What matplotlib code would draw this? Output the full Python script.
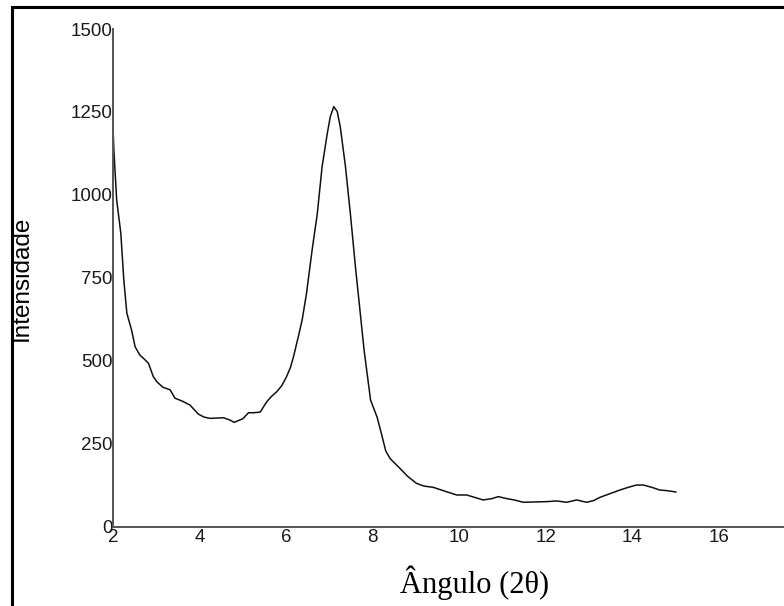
import matplotlib
matplotlib.use("Agg")
import matplotlib.pyplot as plt
from matplotlib.patches import Rectangle

angle = [2.00, 2.02, 2.085, 2.18, 2.25, 2.32, 2.43, 2.51, 2.62, 2.72,
         2.82, 2.93, 3.01, 3.15, 3.32, 3.43, 3.60, 3.78, 3.97, 4.10, 4.24,
         4.40, 4.55, 4.70, 4.80, 4.89, 5.00, 5.13, 5.25, 5.40, 5.55, 5.66,
         5.78, 5.90, 6.01, 6.10, 6.17, 6.28, 6.37, 6.47, 6.60, 6.72, 6.83,
         6.95, 7.02, 7.10, 7.18, 7.25, 7.37, 7.49, 7.60, 7.68, 7.80, 7.95,
         8.10, 8.20, 8.30, 8.40, 8.50, 8.63, 8.80, 9.01, 9.18, 9.40, 9.70, 9.94,
         10.17, 10.35, 10.55, 10.75, 10.90, 11.10, 11.27, 11.48, 11.75,
         12.02, 12.25, 12.48, 12.71, 12.94, 13.10, 13.25, 13.50, 13.71,
         13.90, 14.09, 14.25, 14.45, 14.63, 14.80, 15.00]
intensity = [1205, 1135, 984, 885, 743, 643, 592, 542, 517, 505,
             492, 452, 437, 420, 412, 387, 378, 366, 339, 330, 326,
             327, 328, 321, 314, 319, 325, 343, 343, 345, 376, 392,
             406, 425, 452, 480, 512, 572, 623, 703, 834, 944, 1085,
             1185, 1236, 1266, 1251, 1205, 1085, 934, 783, 683, 532, 381,
             330, 280, 228, 205, 192, 175, 152, 130, 122, 118, 105, 95,
             95, 88, 80, 84, 90, 84, 80, 73, 74,
             75, 77, 73, 80, 73, 78, 88, 100, 110,
             118, 125, 125, 118, 110, 108, 104]

W, H = 784, 606
fig = plt.figure(figsize=(W / 100, H / 100), dpi=100)
fig.patch.set_facecolor("white")

left, right = 113 / W, 1.0
bottom, top = 1 - 526.5 / H, 1 - 29 / H
ax = fig.add_axes([left, bottom, right - left, top - bottom])
ax.plot(angle, intensity, color="#111111", lw=1.1)

ax.set_xlim(2, 17.5)
ax.set_ylim(0, 1500)
ax.set_xticks([2, 4, 6, 8, 10, 12, 14, 16])
ax.set_yticks([0, 250, 500, 750, 1000, 1250, 1500])
for s in ("top", "right"):
    ax.spines[s].set_visible(False)
for s in ("left", "bottom"):
    ax.spines[s].set_color("#555555")
    ax.spines[s].set_linewidth(1.4)
ax.tick_params(axis="both", length=0, labelsize=13.5, colors="#1a1a1a",
               labelfontfamily="Liberation Sans")
ax.tick_params(axis="y", pad=0)
ax.tick_params(axis="x", pad=2)

fig.text(22 / W, 1 - 278 / H, "Intensidade", rotation=90, ha="center", va="center",
         fontsize=17.5, family="Liberation Sans", color="black")
fig.text(475 / W, 1 - 583 / H, "Ângulo (2θ)", ha="center", va="center",
         fontsize=22, family="Liberation Serif", color="black")

fig.patches.append(Rectangle((11.5 / W, -0.1), 1.2, 1 - 6.5 / H + 0.1,
                             transform=fig.transFigure, fill=False,
                             edgecolor="black", lw=2.2, clip_on=False))

fig.savefig("out.png", dpi=100)
